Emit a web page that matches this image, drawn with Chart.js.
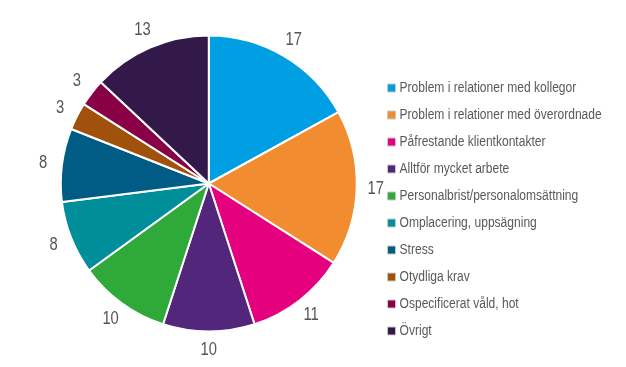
<!DOCTYPE html>
<html>
<head>
<meta charset="utf-8">
<script src="https://cdn.jsdelivr.net/npm/chart.js@4/dist/chart.umd.min.js"></script>
<style>
html,body{margin:0;padding:0;background:#fff;}
#wrap{width:626px;height:367px;position:relative;}
</style>
</head>
<body>
<div id="wrap"><canvas id="c" width="626" height="367"></canvas></div>
<script>
const categories = [
  "Problem i relationer med kollegor",
  "Problem i relationer med överordnade",
  "Påfrestande klientkontakter",
  "Alltför mycket arbete",
  "Personalbrist/personalomsättning",
  "Omplacering, uppsägning",
  "Stress",
  "Otydliga krav",
  "Ospecificerat våld, hot",
  "Övrigt"
];
const values = [17, 17, 11, 10, 10, 8, 8, 3, 3, 13];
const colors = ["#009FE3", "#F18C30", "#E5007D", "#52267A", "#2FA93A", "#008E9B", "#005B85", "#A0520D", "#8A0047", "#33184A"];

const FONT = '"Liberation Sans", Arial, sans-serif';

// slice value labels, drawn in a narrow (horizontally condensed) face
const sliceLabels = {
  id: 'sliceLabels',
  afterDatasetsDraw(chart) {
    const ctx = chart.ctx;
    const meta = chart.getDatasetMeta(0);
    ctx.save();
    ctx.font = '18px ' + FONT;
    ctx.fillStyle = '#555555';
    ctx.textAlign = 'center';
    ctx.textBaseline = 'middle';
    meta.data.forEach((arc, i) => {
      const p = arc.getProps(['x','y','startAngle','endAngle','outerRadius'], true);
      const mid = (p.startAngle + p.endAngle) / 2;
      const r = p.outerRadius + 19;
      const tx = p.x + Math.cos(mid) * r;
      const ty = p.y + Math.sin(mid) * r;
      ctx.save();
      ctx.translate(tx, ty);
      ctx.scale(0.82, 1);
      ctx.fillText(String(chart.data.datasets[0].data[i]), 0, 0);
      ctx.restore();
    });
    ctx.restore();
  }
};

// legend text redrawn in a condensed face at the legend's own item positions
const legendText = {
  id: 'legendText',
  afterDraw(chart) {
    const lg = chart.legend;
    if (!lg || !lg.legendHitBoxes) return;
    const ctx = chart.ctx;
    ctx.save();
    ctx.font = '14px ' + FONT;
    ctx.fillStyle = '#595959';
    ctx.textAlign = 'left';
    ctx.textBaseline = 'middle';
    lg.legendItems.forEach((item, i) => {
      const hb = lg.legendHitBoxes[i];
      ctx.save();
      ctx.translate(hb.left + 12, hb.top + hb.height / 2 + 0.5);
      ctx.scale(0.86, 1);
      ctx.fillText(item.text, 0, 0);
      ctx.restore();
    });
    ctx.restore();
  }
};

new Chart(document.getElementById('c'), {
  type: 'pie',
  data: {
    labels: categories,
    datasets: [{
      data: values,
      backgroundColor: colors,
      borderColor: '#ffffff',
      borderWidth: 2
    }]
  },
  options: {
    responsive: false,
    animation: false,
    radius: 148,
    layout: { padding: { left: 45, right: 13, top: 0, bottom: 0 } },
    plugins: {
      tooltip: { enabled: false },
      legend: {
        position: 'right',
        align: 'center',
        title: { display: true, text: '', font: { size: 12 }, padding: { top: 37.6, bottom: 0 } },
        labels: {
          boxWidth: 8,
          boxHeight: 8,
          padding: 15,
          color: 'rgba(0,0,0,0)',
          font: { size: 12, family: FONT },
          generateLabels(chart) {
            const ds = chart.data.datasets[0];
            return chart.data.labels.map((t, i) => ({
              text: t,
              fillStyle: ds.backgroundColor[i],
              strokeStyle: '#c8c8c8',
              fontColor: 'rgba(0,0,0,0)',
              lineWidth: 1,
              hidden: false,
              index: i
            }));
          }
        }
      }
    }
  },
  plugins: [sliceLabels, legendText]
});
</script>
</body>
</html>
